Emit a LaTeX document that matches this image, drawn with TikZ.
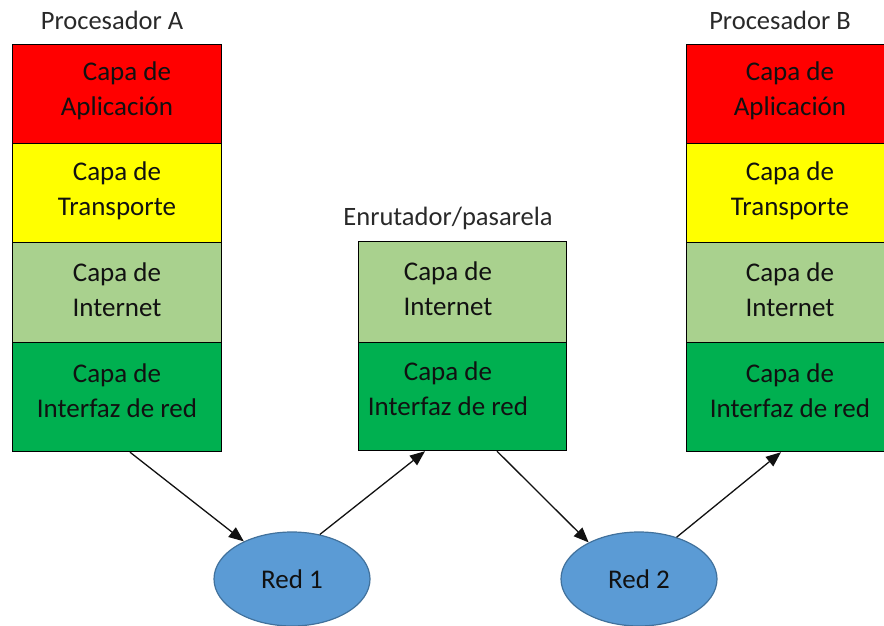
\documentclass[tikz,border=0pt]{standalone}
\usepackage{fontspec}
\setmainfont{Carlito}
\usetikzlibrary{arrows.meta,shapes.geometric}
\definecolor{capaApp}{HTML}{FF0000}
\definecolor{capaTrans}{HTML}{FFFF00}
\definecolor{capaInet}{HTML}{A9D18E}
\definecolor{capaRed}{HTML}{00B050}
\definecolor{redFill}{HTML}{5B9BD5}
\definecolor{redEdge}{HTML}{41719C}
\definecolor{txt}{HTML}{111111}
\tikzset{
  layer/.style={draw=black, line width=1.2pt, anchor=north west, inner sep=0pt,
    minimum width=209pt},
  ltext/.style={text=txt, align=center, font=\fontsize{27}{35}\selectfont, inner sep=0pt},
  title/.style={text=txt!90!white, font=\fontsize{26.5}{30}\selectfont, inner sep=0pt},
  net/.style={ellipse, draw=redEdge, line width=1.2pt, fill=redFill,
    minimum width=156pt, minimum height=94pt, inner sep=0pt,
    text=txt, font=\fontsize{27}{30}\selectfont},
  link/.style={draw=txt, line width=1.3pt, -{Triangle[length=15pt,width=12pt]}}
}
\begin{document}
\begin{tikzpicture}[x=1pt,y=-1pt]
\useasboundingbox (0,0) rectangle (884,626);

% Procesador A
\node[layer, fill=capaApp,   minimum height=99pt]  (aApp)  at (12,44)  {};
\node[layer, fill=capaTrans, minimum height=99pt]  (aTra)  at (12,143) {};
\node[layer, fill=capaInet,  minimum height=100pt] (aInt)  at (12,242) {};
\node[layer, fill=capaRed,   minimum height=109pt] (aRed)  at (12,342) {};
\node[title] (tA) at (112,20) {Procesador A};

% Enrutador/pasarela
\node[layer, fill=capaInet, minimum width=208pt, minimum height=101pt] (mInt) at (358,241) {};
\node[layer, fill=capaRed,  minimum width=208pt, minimum height=108pt] (mRed) at (358,342) {};
\node[title] (tM) at (448,218) {Enrutador/pasarela};

% Procesador B
\node[layer, fill=capaApp,   minimum height=99pt]  (bApp)  at (686,44)  {};
\node[layer, fill=capaTrans, minimum height=99pt]  (bTra)  at (686,143) {};
\node[layer, fill=capaInet,  minimum height=100pt] (bInt)  at (686,242) {};
\node[layer, fill=capaRed,   minimum height=109pt] (bRed)  at (686,342) {};
\node[title] (tB) at (780,20) {Procesador B};

% layer labels
\node[ltext] (laApp) at (117,91)  {\hspace*{20pt}Capa de\\Aplicación};
\node[ltext] (laTra) at (117,191) {Capa de\\Transporte};
\node[ltext] (laInt) at (117,290) {Capa de\\Internet};
\node[ltext] (laRed) at (117,391) {Capa de\\Interfaz de red};
\node[ltext] (lmInt) at (448,289) {Capa de\\Internet};
\node[ltext] (lmRed) at (448,389) {Capa de\\Interfaz de red};
\node[ltext] (lbApp) at (790,91)  {Capa de\\Aplicación};
\node[ltext] (lbTra) at (790,191) {Capa de\\Transporte};
\node[ltext] (lbInt) at (790,290) {Capa de\\Internet};
\node[ltext] (lbRed) at (790,391) {Capa de\\Interfaz de red};

% networks
\node[net] (r1) at (292,579) {Red 1};
\node[net] (r2) at (639,579) {Red 2};

% links
\draw[link] ([xshift=118pt]aRed.south west) -- (r1.142);
\draw[link] (r1.58) -- ([xshift=67pt]mRed.south west);
\draw[link] ([xshift=139pt]mRed.south west) -- (r2.144);
\draw[link] (r2.48) -- ([xshift=95pt]bRed.south west);
\end{tikzpicture}
\end{document}
